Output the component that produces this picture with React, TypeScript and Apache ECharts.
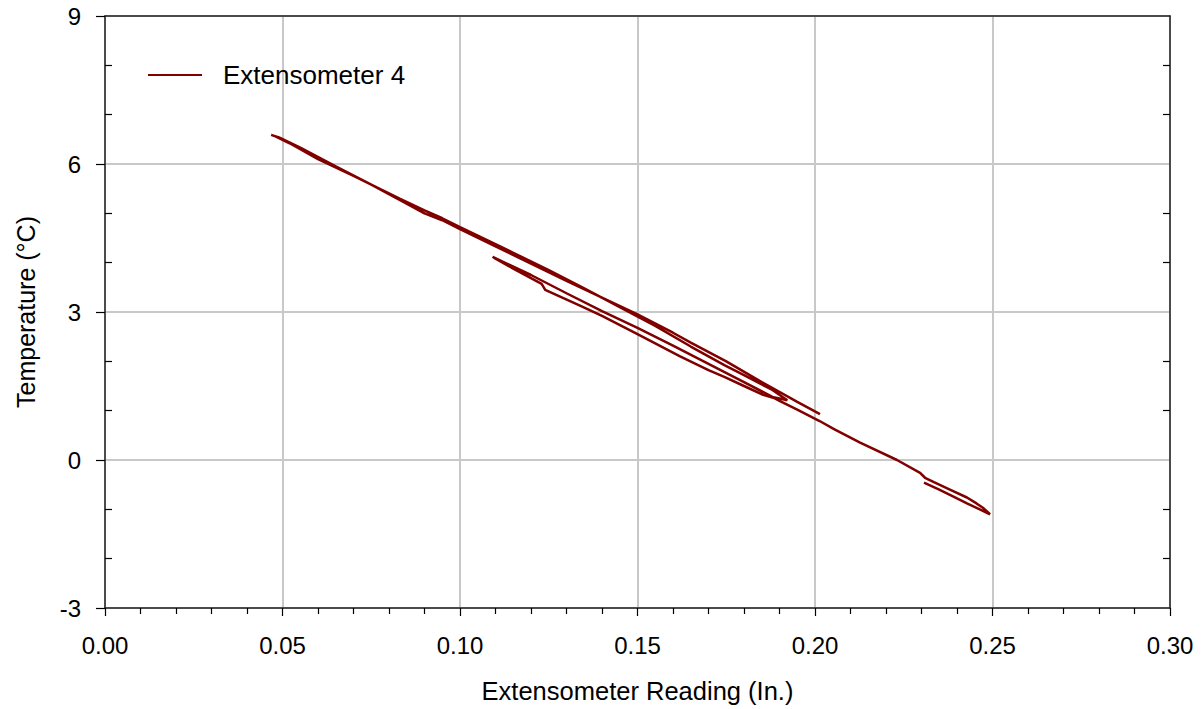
import React, { useEffect, useRef } from "react";
import * as echarts from "echarts";

const xValues: number[] = [
  0.2307, 0.235, 0.24, 0.2428, 0.2455, 0.247, 0.2493,
  0.2475, 0.2455, 0.2428, 0.238, 0.2335, 0.231, 0.2296, 0.2231, 0.2127, 0.2055, 0.2013, 0.195, 0.19, 0.1887,
  0.1854, 0.18, 0.1746, 0.17, 0.162, 0.15, 0.14, 0.1338, 0.124, 0.1236, 0.123, 0.115, 0.11, 0.1092,
  0.112, 0.12, 0.13, 0.14, 0.15, 0.16, 0.17, 0.18, 0.188, 0.1922,
  0.188, 0.18, 0.1746, 0.165, 0.155, 0.145, 0.135, 0.125, 0.115, 0.105, 0.1, 0.095, 0.09, 0.083, 0.07, 0.06, 0.052, 0.048, 0.0468,
  0.049, 0.055, 0.065, 0.075, 0.083, 0.09, 0.095, 0.1, 0.11, 0.12, 0.13, 0.14, 0.15, 0.16, 0.165, 0.175, 0.185, 0.195, 0.2014,
];
const tempValues: number[] = [
  -0.46, -0.6, -0.78, -0.88, -0.97, -1.02, -1.1,
  -0.98, -0.88, -0.76, -0.6, -0.45, -0.36, -0.26, 0.0, 0.35, 0.62, 0.79, 1.02, 1.2, 1.25,
  1.32, 1.5, 1.68, 1.82, 2.1, 2.55, 2.92, 3.13, 3.45, 3.5, 3.57, 3.88, 4.08, 4.12,
  4.02, 3.75, 3.38, 3.02, 2.68, 2.32, 1.95, 1.58, 1.28, 1.21,
  1.42, 1.72, 1.92, 2.3, 2.72, 3.1, 3.48, 3.85, 4.2, 4.55, 4.72, 4.9, 5.06, 5.3, 5.76, 6.1, 6.42, 6.56, 6.59,
  6.54, 6.33, 5.95, 5.58, 5.27, 5.0, 4.86, 4.68, 4.33, 3.98, 3.63, 3.29, 2.95, 2.58, 2.38, 2.0, 1.58, 1.18, 0.93,
];
const yMinorTicks: number[] = [8, 7, 5, 4, 2, 1, -1, -2];
const seriesName = "Extensometer 4";
const xAxisTitle = "Extensometer Reading (In.)";
const yAxisTitle = "Temperature (°C)";

const FONT = "'Liberation Sans', Arial, sans-serif";

export default function App() {
  const ref = useRef<HTMLDivElement>(null);
  useEffect(() => {
    document.body.style.margin = "0";
    if (!ref.current) return;
    const chart = echarts.init(ref.current, undefined, { renderer: "svg" });
    const data = xValues.map((x, i) => [x, tempValues[i]]);
    chart.setOption({
      animation: false,
      backgroundColor: "#ffffff",
      textStyle: { fontFamily: FONT },
      grid: { left: 105, right: 32, top: 16, bottom: 96, show: false },
      legend: {
        left: 148,
        top: 62,
        padding: 0,
        itemWidth: 54,
        itemHeight: 2,
        textStyle: { fontSize: 26, color: "#000", fontFamily: FONT, padding: [0, 0, 0, 16] },
        data: [{ name: seriesName, icon: "rect", itemStyle: { color: "#800000" } }],
      },
      xAxis: [
        {
          type: "value",
          min: 0,
          max: 0.3,
          interval: 0.05,
          name: xAxisTitle,
          nameLocation: "middle",
          nameGap: 70,
          nameTextStyle: { fontSize: 25.5, color: "#000", fontFamily: FONT },
          axisLine: { show: true, onZero: false, lineStyle: { color: "#222", width: 1.5 } },
          axisTick: { show: true, length: 8, lineStyle: { color: "#000", width: 1.2 } },
          minorTick: { show: true, splitNumber: 5, length: 6, lineStyle: { color: "#000", width: 1.2 } },
          axisLabel: {
            fontSize: 24,
            color: "#000",
            margin: 25,
            fontFamily: FONT,
            formatter: (v: number) => v.toFixed(2),
          },
          splitLine: { show: true, lineStyle: { color: "#c8c8c8", width: 2 } },
        },
        {
          type: "value",
          position: "top",
          min: 0,
          max: 0.3,
          axisLine: { show: true, onZero: false, lineStyle: { color: "#222", width: 1.5 } },
          axisTick: { show: false },
          axisLabel: { show: false },
          splitLine: { show: false },
        },
      ],
      yAxis: [
        {
          type: "value",
          min: -3,
          max: 9,
          interval: 3,
          name: yAxisTitle,
          nameLocation: "middle",
          nameGap: 67,
          nameTextStyle: { fontSize: 25, color: "#000", fontFamily: FONT },
          axisLine: { show: true, onZero: false, lineStyle: { color: "#222", width: 1.5 } },
          axisTick: { show: true, length: 9, lineStyle: { color: "#000", width: 1.2 } },
          axisLabel: { fontSize: 24, color: "#000", margin: 24, fontFamily: FONT },
          splitLine: { show: true, lineStyle: { color: "#c8c8c8", width: 2 } },
        },
        {
          type: "value",
          position: "left",
          min: -3,
          max: 9,
          axisLine: { show: false },
          axisTick: {
            show: true,
            inside: true,
            length: 7,
            customValues: yMinorTicks,
            lineStyle: { color: "#000", width: 1.2 },
          },
          axisLabel: { show: false },
          splitLine: { show: false },
        },
        {
          type: "value",
          position: "right",
          min: -3,
          max: 9,
          axisLine: { show: true, onZero: false, lineStyle: { color: "#222", width: 1.5 } },
          axisTick: {
            show: true,
            inside: true,
            length: 7,
            customValues: yMinorTicks,
            lineStyle: { color: "#000", width: 1.2 },
          },
          axisLabel: { show: false },
          splitLine: { show: false },
        },
      ],
      series: [
        {
          name: seriesName,
          type: "line",
          data,
          xAxisIndex: 0,
          yAxisIndex: 0,
          showSymbol: false,
          symbol: "none",
          color: "#800000",
          lineStyle: { color: "#800000", width: 2.5 },
        },
      ],
    });
    return () => chart.dispose();
  }, []);
  return <div ref={ref} style={{ width: 1202, height: 709 }} />;
}
